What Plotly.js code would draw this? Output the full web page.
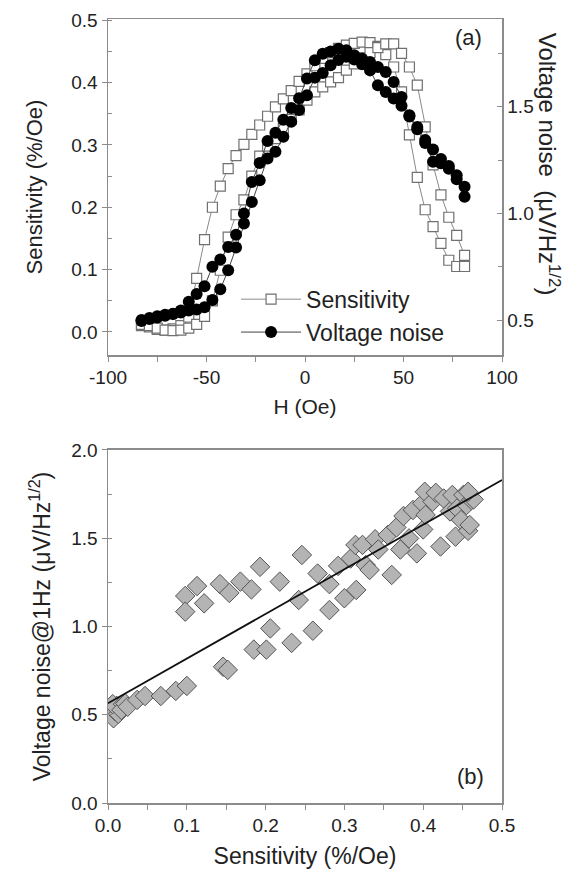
<!DOCTYPE html>
<html><head><meta charset="utf-8">
<script src="https://cdn.plot.ly/plotly-3.0.1.min.js"></script>
<style>html,body{margin:0;padding:0;background:#fff}#chart{width:583px;height:874px}</style>
</head><body><div id="chart"></div>
<script>
// ---- Panel (a): field sweep ----
const hField = [-83,-79,-75,-71,-67,-63,-59,-55,-51,-47,-43,-39,-35,-31,-27,-23,-19,-15,-11,-7,-3,1,5,9,13,17,21,25,29,33,37,41,45,49,53,57,61,65,69,73,77,81];
const sensBranchA = [0.010,0.008,0.004,0.003,0.005,0.010,0.024,0.086,0.148,0.200,0.234,0.262,0.283,0.301,0.317,0.332,0.346,0.361,0.374,0.387,0.402,0.414,0.427,0.439,0.448,0.455,0.460,0.463,0.465,0.464,0.458,0.445,0.425,0.385,0.316,0.248,0.196,0.169,0.142,0.115,0.105,0.105];
const sensBranchB = [0.012,0.010,0.006,0.003,0.002,0.003,0.006,0.012,0.025,0.050,0.099,0.152,0.188,0.212,0.250,0.282,0.298,0.310,0.326,0.341,0.356,0.372,0.385,0.393,0.401,0.408,0.420,0.430,0.440,0.448,0.456,0.462,0.462,0.447,0.425,0.396,0.329,0.268,0.220,0.184,0.155,0.123];
const noiseBranchC = [0.500,0.510,0.518,0.525,0.530,0.545,0.586,0.622,0.659,0.750,0.784,0.843,0.900,1.000,1.148,1.237,1.340,1.378,1.440,1.495,1.540,1.633,1.718,1.749,1.760,1.773,1.765,1.742,1.726,1.710,1.687,1.663,1.617,1.546,1.461,1.406,1.344,1.300,1.255,1.223,1.179,1.125];
const noiseBranchD = [0.495,0.505,0.512,0.520,0.528,0.535,0.545,0.550,0.560,0.594,0.644,0.734,0.840,0.953,1.054,1.156,1.258,1.289,1.360,1.430,1.485,1.554,1.637,1.659,1.695,1.720,1.735,1.722,1.700,1.671,1.601,1.570,1.539,1.505,1.455,1.395,1.330,1.242,1.235,1.210,1.160,1.078];
const hTickVals = [-100, -50, 0, 50, 100];
const hTickLabels = ['-100', '-50', '0', '50', '100'];

// ---- Panel (b): noise vs sensitivity ----
const scatterSens = [0.003,0.005,0.007,0.009,0.011,0.013,0.016,0.006,0.019,0.017,0.022,0.025,
  0.037,0.047,0.067,0.086,0.100,
  0.098,0.098,0.113,0.122,0.142,0.154,0.168,0.182,0.193,0.218,0.246,0.242,
  0.206,0.185,0.201,0.233,0.146,0.152,0.260,
  0.266,0.281,0.281,0.292,0.300,0.308,0.315,0.314,0.323,0.327,0.332,0.339,0.343,0.355,0.360,0.366,0.371,0.375,0.382,0.387,0.392,0.399,0.400,0.403,0.402,0.412,0.416,0.422,0.426,0.434,0.437,0.441,0.443,0.448,0.451,0.455,0.457,0.459,0.461,0.464,0.457];
const scatterNoise = [0.530,0.500,0.480,0.520,0.550,0.505,0.535,0.560,0.560,0.527,0.564,0.545,
  0.584,0.606,0.606,0.635,0.663,
  1.173,1.084,1.229,1.131,1.240,1.190,1.254,1.210,1.338,1.254,1.405,1.150,
  0.989,0.869,0.869,0.907,0.772,0.754,0.976,
  1.300,1.240,1.093,1.343,1.160,1.385,1.207,1.462,1.462,1.348,1.320,1.494,1.436,1.518,1.292,1.561,1.436,1.626,1.499,1.660,1.414,1.698,1.550,1.632,1.763,1.707,1.757,1.453,1.725,1.652,1.745,1.509,1.669,1.603,1.745,1.688,1.542,1.575,1.717,1.720,1.763];
const fitSens = [0.0, 0.5];
const fitNoise = [0.565, 1.83];

const FONT = 'Liberation Sans, Arial, sans-serif';
const join = (a, b) => a.concat([null], b);
const tf = (s) => ({family:FONT, size:s, color:'#222'});

const traces = [
  {x: join(hField, hField), y: join(sensBranchA, sensBranchB), xaxis:'x', yaxis:'y',
   type:'scatter', mode:'lines+markers', name:'Sensitivity', connectgaps:false,
   line:{color:'#8a8a8a', width:1},
   marker:{symbol:'square', size:10, color:'#fff', line:{color:'#707070', width:1.2}}},
  {x: join(hField, hField), y: join(noiseBranchC, noiseBranchD), xaxis:'x', yaxis:'y2',
   type:'scatter', mode:'lines+markers', name:'Voltage noise', connectgaps:false,
   line:{color:'#444', width:1},
   marker:{symbol:'circle', size:12, color:'#000', line:{width:0}}},
  {x: scatterSens, y: scatterNoise, xaxis:'x2', yaxis:'y3', type:'scatter', mode:'markers',
   showlegend:false,
   marker:{symbol:'diamond', size:15, color:'#b4b4b4', line:{color:'#555', width:1}}},
  {x: fitSens, y: fitNoise, xaxis:'x2', yaxis:'y3', type:'scatter', mode:'lines',
   showlegend:false, line:{color:'#111', width:1.8}}
];

const axisBase = {
  showgrid:false, zeroline:false, showline:true, linecolor:'#8c8c8c', linewidth:1.5,
  tickcolor:'#8c8c8c', ticklen:5, tickwidth:1, tickfont:tf(19)
};
function ax(extra){ return Object.assign({}, JSON.parse(JSON.stringify(axisBase)), extra); }

const layout = {
  width:583, height:874,
  margin:{l:108, r:81, t:19, b:71},
  paper_bgcolor:'#fff', plot_bgcolor:'#fff',
  font:{family:FONT, color:'#222'},
  showlegend:true,
  legend:{x:0.325, y:0.67, xanchor:'left', yanchor:'top', bgcolor:'rgba(0,0,0,0)',
          font:tf(23), tracegroupgap:0, itemwidth:60},
  xaxis: ax({domain:[0,1], anchor:'y', range:[-100,100], tickmode:'array', tickvals:hTickVals, ticktext:hTickLabels,
            ticks:'outside',
            minor:{dtick:25, tick0:0, ticks:'outside', ticklen:5, tickcolor:'#8c8c8c'},
            mirror:true, title:{text:'H (Oe)', standoff:12, font:tf(21)}}),
  yaxis: ax({domain:[0.5714,1], anchor:'x', range:[-0.037,0.502], dtick:0.1, tick0:0, tickformat:'.1f',
            ticks:'outside', minor:{dtick:0.05, ticks:'inside', ticklen:4, tickcolor:'#8c8c8c'},
            mirror:false, title:{text:'Sensitivity (%/Oe)', standoff:22, font:tf(22)}}),
  yaxis2: ax({overlaying:'y', side:'right', anchor:'x', range:[0.336,1.912], dtick:0.5, tick0:0, tickformat:'.1f',
            ticks:'inside', minor:{dtick:0.25, ticks:'inside', ticklen:4, tickcolor:'#8c8c8c'}}),
  xaxis3: ax({overlaying:'x', side:'top', anchor:'y', range:[-100,100], dtick:25, tick0:0, ticks:'inside',
            showticklabels:false, showline:false}),
  xaxis2: ax({domain:[0,1], anchor:'y3', range:[0,0.5], dtick:0.1, tick0:0, tickformat:'.1f', ticks:'outside',
            minor:{dtick:0.05, ticks:'outside', ticklen:5, tickcolor:'#8c8c8c'},
            mirror:true, title:{text:'Sensitivity (%/Oe)', standoff:12, font:tf(23)}}),
  yaxis3: ax({domain:[0,0.4503], anchor:'x2', range:[0,2], dtick:0.5, tick0:0, tickformat:'.1f',
            ticks:'outside', minor:{dtick:0.25, ticks:'inside', ticklen:4, tickcolor:'#8c8c8c'},
            mirror:true, title:{text:'Voltage noise@1Hz (μV/Hz<sup>1/2</sup>)', standoff:14, font:tf(23)}}),
  xaxis4: ax({overlaying:'x2', side:'top', anchor:'y3', range:[0,0.5], dtick:0.05, tick0:0, ticks:'inside',
            showticklabels:false, showline:false}),
  yaxis4: ax({overlaying:'y3', side:'right', anchor:'x2', range:[0,2], dtick:0.25, tick0:0, ticks:'inside',
            showticklabels:false, showline:false}),
  annotations:[
    {text:'(a)', xref:'paper', yref:'paper', x:0.914, y:0.976, xanchor:'center', yanchor:'middle',
     showarrow:false, font:tf(22)},
    {text:'(b)', xref:'paper', yref:'paper', x:0.919, y:0.034, xanchor:'center', yanchor:'middle',
     showarrow:false, font:tf(22)},
    {text:'Voltage noise  (μV/Hz<sup>1/2</sup>)', xref:'paper', yref:'paper', x:1.12, y:0.815,
     xanchor:'center', yanchor:'middle', textangle:90, showarrow:false, font:tf(24)}
  ]
};

Plotly.newPlot('chart', traces, layout, {displayModeBar:false, staticPlot:true});
</script>
</body></html>
